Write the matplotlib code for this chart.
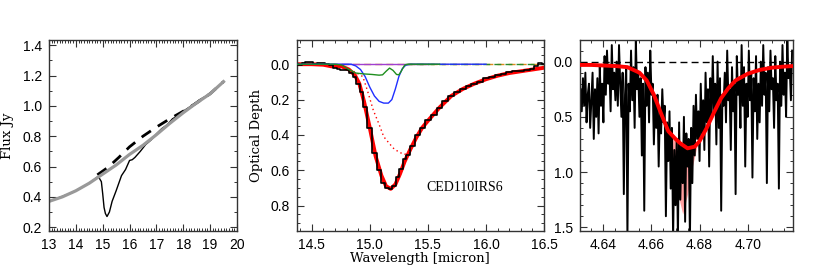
import numpy as np
import matplotlib
matplotlib.use('Agg')
import matplotlib.pyplot as plt
from matplotlib.ticker import MultipleLocator

plt.rcParams['font.family'] = 'Liberation Sans'
plt.rcParams['font.size'] = 10

# ---- panel 1: flux spectrum + continuum
flux_wl = [13.0, 13.3, 13.6, 13.9, 14.2, 14.5, 14.8, 14.85, 14.95, 15.0, 15.05, 15.1,
           15.16, 15.25, 15.35, 15.5, 15.7, 15.85, 16.0, 16.1, 16.2, 16.4, 16.6, 16.8,
           17.0, 17.2, 17.4, 17.6, 17.8, 18.0, 18.3, 18.6, 18.9, 19.2, 19.5]
flux = [0.37, 0.39, 0.41, 0.43, 0.46, 0.49, 0.53, 0.53, 0.50, 0.42, 0.33, 0.29,
        0.27, 0.30, 0.37, 0.44, 0.54, 0.58, 0.64, 0.645, 0.66, 0.70, 0.745, 0.775,
        0.815, 0.85, 0.875, 0.915, 0.935, 0.965, 1.00, 1.04, 1.07, 1.11, 1.16]
cont_wl = [13.0, 13.5, 14.0, 14.5, 15.0, 15.5, 16.0, 16.5, 17.0, 17.5, 18.0, 18.5, 19.0, 19.5]
cont = [0.37, 0.40, 0.44, 0.49, 0.55, 0.61, 0.68, 0.74, 0.81, 0.885, 0.955, 1.02, 1.08, 1.16]
dash_wl = [14.8, 15.2, 15.6, 16.0, 16.5, 17.0, 17.5, 18.0, 18.5, 19.0, 19.5]
dash = [0.545, 0.595, 0.66, 0.73, 0.80, 0.86, 0.915, 0.965, 1.02, 1.08, 1.16]

# ---- panel 2: optical depth CO2 15 micron
tau_wl = [14.37, 14.40, 14.43, 14.46, 14.50, 14.53, 14.56, 14.60, 14.63, 14.66,
          14.70, 14.73, 14.76, 14.80, 14.84, 14.87, 14.90, 14.93, 14.96, 15.00,
          15.04, 15.08, 15.12, 15.15, 15.18, 15.21, 15.24, 15.27, 15.30, 15.33,
          15.37, 15.41, 15.45, 15.50, 15.55, 15.60, 15.65, 15.70, 15.75, 15.80,
          15.85, 15.90, 15.95, 16.00, 16.05, 16.10, 16.15, 16.20, 16.25, 16.30,
          16.35, 16.40, 16.43, 16.46, 16.50]
tau = [0.0, 0.005, -0.005, -0.01, -0.012, 0.0, -0.005, -0.005, 0.0, 0.005,
       0.02, 0.025, 0.03, 0.035, 0.05, 0.07, 0.11, 0.16, 0.24, 0.36,
       0.50, 0.60, 0.67, 0.70, 0.705, 0.69, 0.64, 0.59, 0.535, 0.515,
       0.46, 0.40, 0.36, 0.315, 0.29, 0.245, 0.21, 0.18, 0.155, 0.14,
       0.125, 0.11, 0.10, 0.08, 0.075, 0.06, 0.055, 0.045, 0.04, 0.04,
       0.03, 0.025, 0.01, -0.005, 0.0]
fit_wl = [14.37, 14.5, 14.6, 14.67, 14.75, 14.82, 14.87, 14.91, 14.95, 15.0, 15.05,
          15.1, 15.14, 15.18, 15.22, 15.26, 15.3, 15.35, 15.4, 15.45, 15.5, 15.6,
          15.7, 15.8, 15.9, 16.0, 16.1, 16.2, 16.3, 16.4, 16.5]
fit = [0.0, 0.0, 0.003, 0.012, 0.01, 0.03, 0.06, 0.11, 0.21, 0.36, 0.52,
       0.63, 0.69, 0.705, 0.68, 0.62, 0.55, 0.48, 0.415, 0.36, 0.32, 0.245,
       0.18, 0.14, 0.11, 0.085, 0.065, 0.05, 0.04, 0.03, 0.02]
dot_wl = [14.86, 14.90, 14.94, 14.98, 15.03, 15.08, 15.12, 15.17, 15.21, 15.26, 15.30, 15.34]
dot = [0.04, 0.055, 0.07, 0.15, 0.26, 0.34, 0.41, 0.45, 0.48, 0.50, 0.51, 0.49]
blue_wl = [14.37, 14.84, 14.88, 14.92, 14.96, 15.00, 15.04, 15.08, 15.12, 15.16,
           15.19, 15.22, 15.25, 15.28, 15.31, 15.35, 16.0]
blue = [0.0, 0.0, 0.01, 0.03, 0.07, 0.13, 0.18, 0.21, 0.22, 0.22,
        0.20, 0.14, 0.07, 0.025, 0.005, 0.0, 0.0]
green_wl = [14.37, 14.70, 14.76, 14.82, 14.88, 14.95, 15.02, 15.08, 15.11, 15.14,
            15.17, 15.20, 15.23, 15.25, 15.27, 15.30, 15.33, 15.6]
green = [0.0, 0.0, 0.005, 0.03, 0.05, 0.055, 0.058, 0.062, 0.06, 0.04,
         0.022, 0.035, 0.058, 0.06, 0.04, 0.005, 0.0, 0.0]

# ---- panel 3: CO 4.67 micron
co_start, co_step = 4.6305, 0.0005
co_tau = [0.25, 0.45, 0.15, 0.40, 0.10, 0.55, 0.30, 0.20, 0.60, 0.35,
          0.10, 0.70, 0.25, 0.50, 0.15, 0.65, 0.05, 0.40, 0.20, 0.55,
          -0.05, 0.30, -0.10, 0.20, 0.05, 0.45, -0.15, 0.25, 0.10, 0.35,
          0.00, 0.40, -0.15, 0.20, 0.50, 0.10, 1.20, 0.30, 0.05, 1.60,
          0.20, 0.45, -0.10, 0.35, 0.05, 0.60, -0.20, 0.25, 0.10, 0.50,
          0.15, 0.85, 0.20, 1.35, 0.05, 0.40, 0.10, 0.55, -0.10, 0.30,
          0.20, 0.75, 0.35, 0.60, 0.30, 0.95, 0.45, 0.65, 0.25, 0.55,
          0.40, 1.40, 0.55, 0.90, 0.45, 1.15, 0.60, 1.60, 0.80, 1.30,
          0.70, 1.60, 0.55, 1.25, 0.75, 1.10, 0.50, 1.45, 0.65, 0.95,
          0.70, 1.60, 0.60, 1.10, 0.40, 0.85, 0.30, 0.70, 0.45, 0.90,
          0.20, 0.65, 0.35, 0.80, 0.10, 0.55, 0.25, 0.95, 0.15, 0.50,
          -0.05, 0.45, 0.20, 0.75, 0.00, 0.60, 0.15, 1.35, 0.30, 0.40,
          0.10, 0.55, -0.10, 0.35, 0.25, 0.80, 0.05, 0.45, 0.20, 1.20,
          -0.05, 0.30, 0.15, 0.60, -0.15, 0.40, 0.05, 0.95, 0.20, 0.50,
          -0.10, 0.35, 0.10, 1.05, 0.15, 0.45, -0.05, 0.70, 0.20, 0.55,
          0.00, 0.40, -0.15, 0.30, 0.10, 1.10, 0.05, 0.45, -0.10, 0.25,
          0.15, 0.60, -0.05, 0.35, 0.20, 1.15, 0.00, 0.40, -0.15, 0.30,
          0.10, 0.50, -0.20, 0.15, 0.05, 0.35, -0.10]
co_fit_wl = [4.6303, 4.635, 4.640, 4.645, 4.650, 4.655, 4.658, 4.661, 4.664, 4.667,
             4.670, 4.672, 4.675, 4.678, 4.680, 4.683, 4.686, 4.689, 4.692, 4.695,
             4.700, 4.705, 4.710, 4.715, 4.719]
co_fit = [0.03, 0.03, 0.035, 0.04, 0.05, 0.10, 0.17, 0.30, 0.47, 0.63,
          0.70, 0.74, 0.785, 0.77, 0.72, 0.60, 0.46, 0.33, 0.24, 0.17,
          0.11, 0.075, 0.055, 0.045, 0.04]
band_wl = [4.667, 4.669, 4.671, 4.673, 4.675, 4.677, 4.679]
band_lo = [0.63, 0.95, 1.20, 1.38, 1.20, 0.95, 0.76]

fig = plt.figure(figsize=(8.17, 2.72), dpi=100)
ax1 = fig.add_axes([0.060, 0.151, 0.230, 0.702])
ax2 = fig.add_axes([0.363, 0.151, 0.303, 0.702])
ax3 = fig.add_axes([0.710, 0.151, 0.261, 0.702])

label_font = dict(family='DejaVu Serif', fontsize=9.5)

# panel 1
ax1.plot(flux_wl, flux, color='black', lw=1.0)
ax1.plot(dash_wl, dash, color='black', lw=2.0, ls=(0, (4, 3)))
ax1.plot(cont_wl, cont, color='#999999', lw=2.3)
ax1.set_xlim(13, 20)
ax1.set_ylim(0.175, 1.435)
ax1.xaxis.set_major_locator(MultipleLocator(1))
ax1.xaxis.set_minor_locator(MultipleLocator(0.1))
ax1.yaxis.set_major_locator(MultipleLocator(0.2))
ax1.yaxis.set_minor_locator(MultipleLocator(0.1))
ax1.set_ylabel('Flux Jy', labelpad=6, **label_font)

# panel 2
ax2.axhline(0, color='#e08a1e', lw=1.0, ls=(0, (5, 3)), zorder=1)
ax2.plot([14.37, 15.5], [0, 0], color='#a040d0', lw=1.0, zorder=1)
ax2.plot([15.3, 16.5], [0, 0], color='#2a8a2a', lw=1.0, ls=(0, (5, 3)), zorder=1)
ax2.plot(fit_wl, fit, color='red', lw=2.8, zorder=2)
ax2.plot(tau_wl, tau, color='black', lw=1.2, drawstyle='steps-mid', zorder=3)
ax2.plot(dot_wl, dot, color='red', lw=1.0, ls=(0, (1, 2.2)), zorder=3)
ax2.plot(blue_wl, blue, color='#1f2fff', lw=1.0, zorder=4)
ax2.plot(green_wl, green, color='#1f8f1f', lw=1.0, zorder=4)
ax2.text(15.49, 0.70, 'CED110IRS6', family='Liberation Serif', fontsize=10,
         va='center', ha='left')
ax2.set_xlim(14.37, 16.5)
ax2.set_ylim(0.943, -0.137)
ax2.xaxis.set_major_locator(MultipleLocator(0.5))
ax2.xaxis.set_minor_locator(MultipleLocator(0.1))
ax2.yaxis.set_major_locator(MultipleLocator(0.2))
ax2.yaxis.set_minor_locator(MultipleLocator(0.05))
ax2.xaxis.set_major_formatter(plt.FormatStrFormatter('%.1f'))
ax2.yaxis.set_major_formatter(plt.FormatStrFormatter('%.1f'))
ax2.set_ylabel('Optical Depth', labelpad=5, **label_font)
ax2.set_xlabel('Wavelength [micron]', labelpad=0, **label_font)

# panel 3
co_wl = co_start + co_step * np.arange(len(co_tau))
ax3.fill_between(band_wl, np.interp(band_wl, co_fit_wl, co_fit), band_lo,
                 color='#ff8080', alpha=0.75, lw=0, zorder=1)
ax3.plot(co_wl, co_tau, color='black', lw=1.4, zorder=2)
ax3.axhline(0, color='black', lw=1.0, ls=(0, (5, 3)), zorder=2)
ax3.plot(co_fit_wl, co_fit, color='red', lw=2.8, zorder=3)
ax3.set_xlim(4.6303, 4.719)
ax3.set_ylim(1.533, -0.196)
ax3.xaxis.set_major_locator(MultipleLocator(0.02))
ax3.xaxis.set_minor_locator(MultipleLocator(0.005))
ax3.yaxis.set_major_locator(MultipleLocator(0.5))
ax3.yaxis.set_minor_locator(MultipleLocator(0.1))
ax3.xaxis.set_major_formatter(plt.FormatStrFormatter('%.2f'))
ax3.yaxis.set_major_formatter(plt.FormatStrFormatter('%.1f'))

for ax in (ax1, ax2, ax3):
    for s in ax.spines.values():
        s.set_color('#333333')
        s.set_linewidth(1.0)
    ax.tick_params(which='both', direction='in', top=True, right=True,
                   color='#333333', labelsize=10)
    ax.tick_params(which='major', length=5, width=0.8, pad=5)
    ax.tick_params(which='minor', length=2.5, width=0.7)

fig.savefig('out.png', dpi=100)
